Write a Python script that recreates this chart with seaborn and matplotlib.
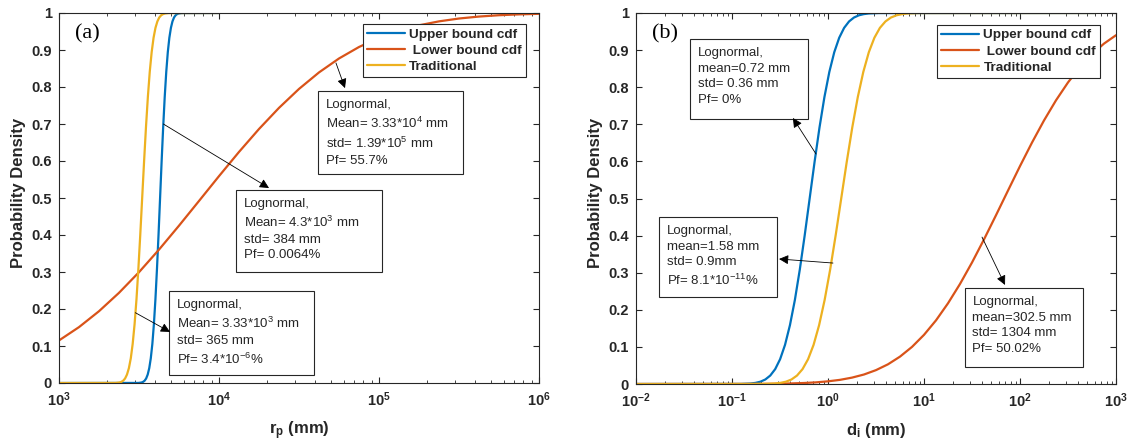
import pandas as pd
import matplotlib
matplotlib.use("Agg")
import matplotlib.pyplot as plt
import seaborn as sns
from matplotlib.patches import Rectangle


series_names = ['Upper bound cdf', ' Lower bound cdf', 'Traditional']
series_colors = ['#0072BD', '#D95319', '#EDB120']

prob_ticks = [0, 0.1, 0.2, 0.3, 0.4, 0.5, 0.6, 0.7, 0.8, 0.9, 1]
prob_labels = ['0', '0.1', '0.2', '0.3', '0.4', '0.5', '0.6', '0.7', '0.8', '0.9', '1']

# (a) r_p values
rp_upper_x = [1000, 3136, 3278, 3352, 3428, 3505, 3584, 3665, 3747, 3832, 3918, 4006,
              4096, 4189, 4283, 4379, 4478, 4579, 4682, 4787, 4895, 5006, 5118, 5234,
              5352, 5472, 5595, 5850, 10000]
rp_upper_y = [0, 0.0002, 0.0013, 0.0030, 0.0062, 0.0122, 0.0228, 0.0401, 0.0668,
              0.1056, 0.1587, 0.2266, 0.3085, 0.4013, 0.5, 0.5987, 0.6915, 0.7734,
              0.8413, 0.8944, 0.9332, 0.9599, 0.9772, 0.9878, 0.9938, 0.9970, 0.9987,
              0.9998, 1]
rp_lower_x = [1000, 1334, 1778, 2371, 3162, 4217, 5623, 7499, 10000, 13335, 17783,
              23714, 31623, 42170, 56234, 74989, 100000, 133352, 177828, 237137,
              316228, 421697, 562341, 749894, 1000000]
rp_lower_y = [0.1150, 0.1511, 0.1940, 0.2437, 0.2995, 0.3605, 0.4252, 0.4920,
              0.5591, 0.6245, 0.6865, 0.7436, 0.7948, 0.8394, 0.8771, 0.9081,
              0.9329, 0.9522, 0.9667, 0.9774, 0.9851, 0.9904, 0.9940, 0.9963, 0.9978]
rp_trad_x = [1000, 2258, 2385, 2451, 2519, 2588, 2660, 2734, 2810, 2887, 2967, 3050,
             3134, 3221, 3310, 3402, 3496, 3593, 3692, 3795, 3900, 4008, 4119, 4233,
             4350, 4471, 4595, 4853, 10000]
rp_trad_y = [0, 0.0002, 0.0013, 0.0030, 0.0062, 0.0122, 0.0228, 0.0401, 0.0668,
             0.1056, 0.1587, 0.2266, 0.3085, 0.4013, 0.5, 0.5987, 0.6915, 0.7734,
             0.8413, 0.8944, 0.9332, 0.9599, 0.9772, 0.9878, 0.9938, 0.9970, 0.9987,
             0.9998, 1]

# (b) d_i values
di_upper_x = [0.01, 0.1233, 0.1561, 0.1757, 0.1977, 0.2225, 0.2504, 0.2818, 0.3170,
              0.3568, 0.4015, 0.4519, 0.5085, 0.5723, 0.644, 0.7247, 0.8156, 0.9178,
              1.0328, 1.1623, 1.3081, 1.4720, 1.6566, 1.8641, 2.098, 2.3606, 2.657,
              3.365, 600]
di_upper_y = [0, 0.0002, 0.0013, 0.0030, 0.0062, 0.0122, 0.0228, 0.0401, 0.0668,
              0.1056, 0.1587, 0.2266, 0.3085, 0.4013, 0.5, 0.5987, 0.6915, 0.7734,
              0.8413, 0.8944, 0.9332, 0.9599, 0.9772, 0.9878, 0.9938, 0.9970, 0.9987,
              0.9998, 1]
di_lower_x = [0.01, 0.1, 0.1334, 0.1778, 0.2371, 0.3162, 0.4217, 0.5623, 0.7499, 1,
              1.334, 1.778, 2.371, 3.162, 4.217, 5.623, 7.499, 10, 13.34, 17.78, 23.71,
              31.62, 42.17, 56.23, 74.99, 100, 133.4, 177.8, 237.1, 316.2, 421.7,
              562.3, 749.9, 1000]
di_lower_y = [0, 0.0001, 0.0001, 0.0003, 0.0005, 0.0009, 0.0016, 0.0027, 0.0044,
              0.0072, 0.0112, 0.0172, 0.0256, 0.0374, 0.0531, 0.0738, 0.1000, 0.1325,
              0.1716, 0.2175, 0.2696, 0.3274, 0.3897, 0.4549, 0.5214, 0.5873, 0.6508,
              0.7103, 0.7646, 0.8128, 0.8543, 0.8891, 0.9175, 0.9401]
di_trad_x = [0.01, 0.2147, 0.2800, 0.3196, 0.3648, 0.4166, 0.4756, 0.5430, 0.6199,
             0.7078, 0.8081, 0.9226, 1.0532, 1.2026, 1.373, 1.5676, 1.7898, 2.0433,
             2.3329, 2.6633, 3.0412, 3.4718, 3.9637, 4.5255, 5.1665, 5.8992, 6.734,
             8.777, 600]
di_trad_y = [0, 0.0002, 0.0013, 0.0030, 0.0062, 0.0122, 0.0228, 0.0401, 0.0668,
             0.1056, 0.1587, 0.2266, 0.3085, 0.4013, 0.5, 0.5987, 0.6915, 0.7734,
             0.8413, 0.8944, 0.9332, 0.9599, 0.9772, 0.9878, 0.9938, 0.9970, 0.9987,
             0.9998, 1]

rp_notes = ['Lognormal,\nMean= 3.33*10$^4$ mm\nstd= 1.39*10$^5$ mm\nPf= 55.7%',
            'Lognormal,\nMean= 4.3*10$^3$ mm\nstd= 384 mm\nPf= 0.0064%',
            'Lognormal,\nMean= 3.33*10$^3$ mm\nstd= 365 mm\nPf= 3.4*10$^{-6}$%']
di_notes = ['Lognormal,\nmean=0.72 mm\nstd= 0.36 mm\nPf= 0%',
            'Lognormal,\nmean=1.58 mm\nstd= 0.9mm\nPf= 8.1*10$^{-11}$%',
            'Lognormal,\nmean=302.5 mm\nstd= 1304 mm\nPf= 50.02%']


def make_df(xs, ys):
    frames = []
    for name, x, y in zip(series_names, xs, ys):
        frames.append(pd.DataFrame({'x': x, 'y': y, 'series': name}))
    return pd.concat(frames, ignore_index=True)


df_rp = make_df([rp_upper_x, rp_lower_x, rp_trad_x], [rp_upper_y, rp_lower_y, rp_trad_y])
df_di = make_df([di_upper_x, di_lower_x, di_trad_x], [di_upper_y, di_lower_y, di_trad_y])

sns.set_style("ticks")
plt.rcParams['font.family'] = ['Liberation Sans', 'DejaVu Sans']
plt.rcParams['font.weight'] = 'bold'
plt.rcParams['mathtext.default'] = 'regular'

ink = '#262626'

fig = plt.figure(figsize=(11.31, 4.43), dpi=100)
ax1 = fig.add_axes([59 / 1131, 1 - 383 / 443, 480 / 1131, 370 / 443])
ax2 = fig.add_axes([636 / 1131, 1 - 384 / 443, 480 / 1131, 371 / 443])


def draw_panel(ax, df, xlim, xlabel, tag, legend_xy, boxes, notes, arrows):
    ax.set_xscale('log')
    sns.lineplot(data=df, x='x', y='y', hue='series', hue_order=series_names,
                 palette=series_colors, estimator=None, sort=False, lw=1.6, ax=ax)
    ax.set_xlim(xlim)
    ax.set_ylim(0, 1)
    ax.set_yticks(prob_ticks)
    ax.set_yticklabels(prob_labels)
    ax.tick_params(axis='both', which='both', direction='in', top=True, right=True,
                   colors=ink, labelsize=10.5)
    ax.tick_params(which='major', length=4, pad=5)
    ax.tick_params(which='minor', length=2.2)
    for s in ax.spines.values():
        s.set_color(ink)
        s.set_linewidth(0.8)
    ax.set_xlabel(xlabel, fontsize=12, fontweight='bold', color=ink, labelpad=8)
    ax.set_ylabel('Probability Density', fontsize=12, fontweight='bold', color=ink)
    ax.yaxis.set_label_coords(-0.068, 0.515)

    ax.text(0.033, 0.943, tag, transform=ax.transAxes, family='Liberation Serif',
            fontweight='normal', fontsize=16, va='center', ha='left', color='k')

    handles, labels = ax.get_legend_handles_labels()
    leg = ax.legend(handles, labels, loc='upper left', bbox_to_anchor=legend_xy,
                    borderaxespad=0, frameon=True, fancybox=False, framealpha=1,
                    edgecolor=ink, prop={'weight': 'bold', 'size': 9.7},
                    handlelength=2.8, borderpad=0.3, labelspacing=0.28,
                    handletextpad=0.35)
    leg.get_frame().set_linewidth(0.8)
    leg.set_zorder(8)

    for (x0, x1, y0, y1), note in zip(boxes, notes):
        ax.add_patch(Rectangle((x0, y0), x1 - x0, y1 - y0, transform=ax.transAxes,
                               facecolor='white', edgecolor=ink, lw=0.8, zorder=4))
        ax.text(x0 + 0.016, y1 - 0.022, note, transform=ax.transAxes, va='top',
                ha='left', fontsize=9.5, fontweight='normal', color=ink,
                linespacing=1.4, zorder=5)

    for tail, head in arrows:
        ax.annotate('', xy=head, xytext=tail,
                    arrowprops=dict(arrowstyle='-|>', color='k', lw=0.6,
                                    mutation_scale=14, shrinkA=0, shrinkB=0),
                    zorder=6)


draw_panel(ax1, df_rp, (1e3, 1e6), 'r$_p$ (mm)', '(a)', (0.633, 0.970),
           [(0.540, 0.842, 0.565, 0.789), (0.369, 0.673, 0.300, 0.522),
            (0.229, 0.531, 0.022, 0.249)],
           rp_notes,
           [((53830, 0.865), (61310, 0.797)), ((4490, 0.70), (20540, 0.527)),
            ((3000, 0.19), (4943, 0.138))])

draw_panel(ax2, df_di, (1e-2, 1e3), 'd$_i$ (mm)', '(b)', (0.627, 0.968),
           [(0.113, 0.358, 0.714, 0.930), (0.048, 0.294, 0.235, 0.450),
            (0.685, 0.931, 0.046, 0.259)],
           di_notes,
           [((0.750, 0.620), (0.431, 0.717)), ((1.127, 0.326), (0.309, 0.337)),
            ((40.2, 0.396), (69.8, 0.267))])

fig.savefig("out.png", dpi=100)
